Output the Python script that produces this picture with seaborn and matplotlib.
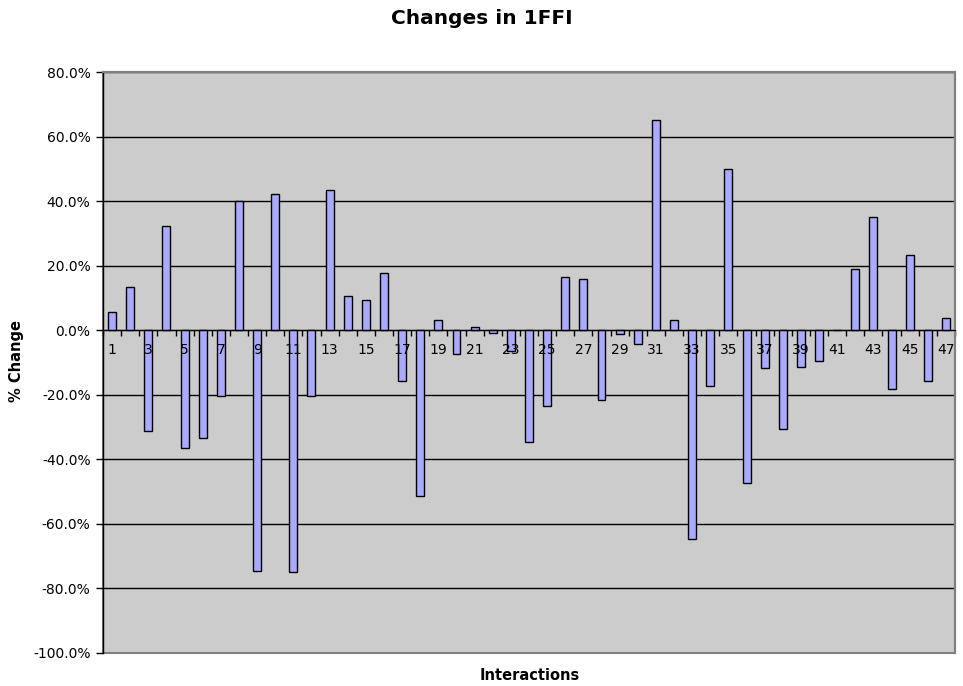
import numpy as np
import pandas as pd
import matplotlib
matplotlib.use("Agg")
import matplotlib.pyplot as plt
from matplotlib.ticker import FuncFormatter, FixedLocator
import seaborn as sns

interactions = [str(i) for i in range(1, 48)]
pct_change = [
    5.5, 13.3, -31.1, 32.4, -36.4, -33.5, -20.3, 40.1, -74.5, 42.2,
    -74.9, -20.5, 43.4, 10.6, 9.4, 17.6, -15.7, -51.3, 3.1, -7.5,
    1.1, -0.8, -6.5, -34.6, -23.5, 16.4, 16.0, -21.6, -1.1, -4.4,
    65.0, 3.1, -64.6, -17.3, 49.8, -47.2, -11.7, -30.5, -11.4, -9.5,
    0.0, 18.9, 35.0, -18.2, 23.3, -15.7, 3.8,
]
y_ticks = [-100, -80, -60, -40, -20, 0, 20, 40, 60, 80]

df = pd.DataFrame({"interaction": interactions, "change": pct_change})

W, H = 963, 686
fig = plt.figure(figsize=(W / 100, H / 100), dpi=100)
ax = fig.add_axes([103 / W, 1 - 653 / H, (955 - 103) / W, (653 - 72) / H])
ax.set_facecolor("#CCCCCC")

sns.barplot(data=df, x="interaction", y="change", order=interactions,
            color="#AAAAFF", saturation=1, width=0.44,
            edgecolor="black", linewidth=1, ax=ax, zorder=1)

ax.set_ylim(-100, 80)
ax.set_xlim(-0.5, len(interactions) - 0.5)

# gridlines behind the bars
for t in y_ticks:
    ax.axhline(t, color="black", lw=1, zorder=0.5)

ax.yaxis.set_major_locator(FixedLocator(y_ticks))
ax.yaxis.set_major_formatter(FuncFormatter(lambda v, p: f"{v:.1f}%"))
ax.tick_params(axis="y", direction="out", length=5, width=1, labelsize=10,
               colors="black", pad=4)

# category axis sits on the zero line
ax.spines["bottom"].set_position(("data", 0))
ax.spines["bottom"].set_color("black")
ax.set_xticks(range(0, len(interactions), 2))
ax.set_xticklabels(interactions[::2])
ax.set_xticks(np.arange(-0.5, len(interactions), 1), minor=True)
ax.tick_params(axis="x", which="major", length=0, labelsize=10, pad=9)
ax.tick_params(axis="x", which="minor", direction="out", length=4, width=1)

ax.spines["left"].set_color("black")
ax.spines["top"].set_color("#808080")
ax.spines["right"].set_color("#808080")
ax.spines["left"].set_linewidth(1)
ax.spines["top"].set_linewidth(1.5)
ax.spines["right"].set_linewidth(1.5)
ax.add_patch(plt.Rectangle((0, 0), 1, 1, transform=ax.transAxes, fill=False,
                           edgecolor="#808080", lw=1.5, zorder=0.6, clip_on=False))

ax.set_xlabel("")
ax.set_ylabel("")
fig.text(0.5, 1 - 18 / H, "Changes in 1FFI", ha="center", va="center",
         fontsize=14.5, fontweight="bold")
fig.text(530 / W, 1 - 675 / H, "Interactions", ha="center", va="center",
         fontsize=10.5, fontweight="bold")
fig.text(17 / W, 1 - 361 / H, "% Change", ha="center", va="center",
         fontsize=10.5, fontweight="bold", rotation=90)

fig.savefig("out.png", dpi=100)
plt.close(fig)
